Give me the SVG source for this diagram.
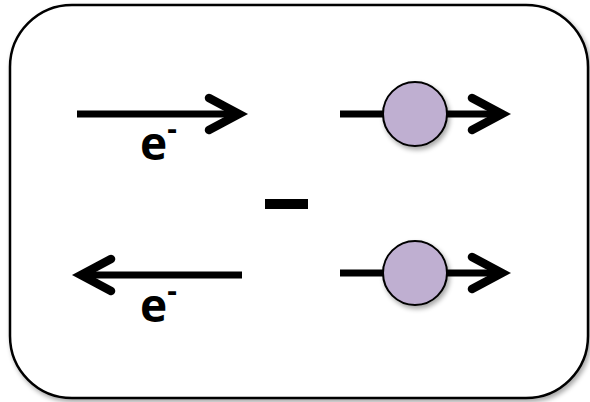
<svg xmlns="http://www.w3.org/2000/svg" width="590" height="402" viewBox="0 0 590 402">
  <defs>
    <filter id="shadow" x="-10%" y="-10%" width="130%" height="130%">
      <feGaussianBlur in="SourceAlpha" stdDeviation="2.5"/>
      <feOffset dx="2" dy="3" result="b"/>
      <feComponentTransfer><feFuncA type="linear" slope="0.35"/></feComponentTransfer>
      <feMerge><feMergeNode/><feMergeNode in="SourceGraphic"/></feMerge>
    </filter>
    <style>
      .shaft { stroke: #000; stroke-width: 7; fill: none; }
      .head { stroke: #000; stroke-width: 8.5; fill: none; stroke-linecap: round; stroke-linejoin: miter; }
      .particle { fill: #bfafd1; stroke: #000; stroke-width: 2; }
      .label { font-family: "Open Sans", "Liberation Sans", sans-serif; font-weight: bold; fill: #000; font-size: 46px; }
      .sup { font-size: 30px; }
    </style>
  </defs>

  <!-- outer frame -->
  <g id="frame">
    <rect x="10" y="5" width="578" height="393" rx="62" ry="62" fill="#fff" stroke="#000" stroke-width="2.5" filter="url(#shadow)"/>
  </g>

  <g id="connectors">
    <!-- upper electron arrow, pointing right -->
    <line class="shaft" x1="77" y1="114" x2="239" y2="114"/>
    <polyline class="head" points="209,98 239,114 209,130"/>
    <!-- lower electron arrow, pointing left -->
    <line class="shaft" x1="242" y1="275" x2="81" y2="275"/>
    <polyline class="head" points="111,259 81,275 111,291"/>
    <!-- upper particle track -->
    <line class="shaft" x1="340" y1="114" x2="502" y2="114"/>
    <polyline class="head" points="472,98 502,114 472,130"/>
    <!-- lower particle track -->
    <line class="shaft" x1="340" y1="273" x2="502" y2="273"/>
    <polyline class="head" points="472,257 502,273 472,289"/>
  </g>

  <g id="particle-top">
    <circle class="particle" cx="415" cy="114" r="32" filter="url(#shadow)"/>
  </g>
  <g id="particle-bottom">
    <circle class="particle" cx="415" cy="273" r="32" filter="url(#shadow)"/>
  </g>

  <g id="label-top">
    <text class="label" x="140" y="160">e<tspan class="sup" dy="-21">-</tspan></text>
  </g>
  <g id="label-bottom">
    <text class="label" x="140" y="322">e<tspan class="sup" dy="-21">-</tspan></text>
  </g>

  <g id="minus">
    <rect x="265" y="199" width="43" height="10" fill="#000"/>
  </g>
</svg>
